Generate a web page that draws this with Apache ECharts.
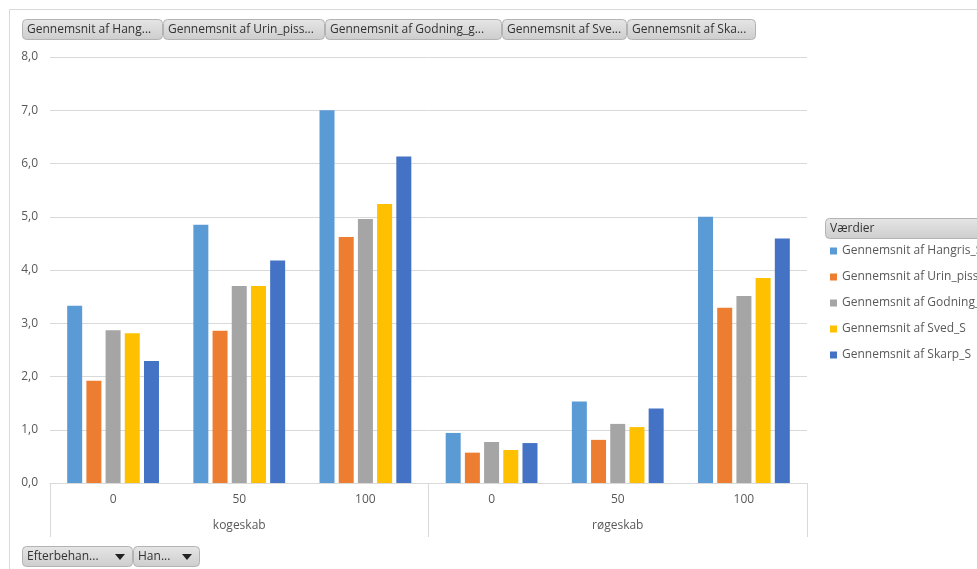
<!DOCTYPE html>
<html>
<head>
<meta charset="utf-8">
<script src="https://cdn.jsdelivr.net/npm/echarts@6/dist/echarts.min.js"></script>
<style>
  html, body { margin: 0; padding: 0; background: #ffffff; }
  #chart { width: 977px; height: 569px; }
</style>
</head>
<body>
<div id="chart"></div>
<script>
// Inner category level (Hangris level) and outer level (Efterbehandling)
const levels = ['0', '50', '100', '0', '50', '100'];
const groups = ['kogeskab', 'røgeskab'];

// Average scores per combination
const seriesNames = [
  'Gennemsnit af Hangris_S',
  'Gennemsnit af Urin_pisse_S',
  'Gennemsnit af Godning_galt_S',
  'Gennemsnit af Sved_S',
  'Gennemsnit af Skarp_S'
];
const hangris = [3.33, 4.85, 7.00, 0.94, 1.53, 5.00];
const urin    = [1.92, 2.86, 4.62, 0.57, 0.81, 3.29];
const godning = [2.87, 3.70, 4.96, 0.77, 1.11, 3.51];
const sved    = [2.81, 3.70, 5.24, 0.62, 1.05, 3.85];
const skarp   = [2.29, 4.18, 6.13, 0.75, 1.40, 4.59];

// Y axis range
const yMin = 0;
const yMax = 8;
const yStep = 1;

// Pivot field buttons
const valueFields = [
  'Gennemsnit af Hang...',
  'Gennemsnit af Urin_piss...',
  'Gennemsnit af Godning_g...',
  'Gennemsnit af Sve...',
  'Gennemsnit af Ska...'
];
const rowFields = ['Efterbehan...', 'Han...'];
const legendTitle = 'Værdier';

const colors = ['#5B9BD5', '#ED7D31', '#A5A5A5', '#FFC000', '#4472C4'];
const FONT = '"Open Sans", "Noto Sans", sans-serif';
const values = [hangris, urin, godning, sved, skarp];

// ---- pivot button chrome ----
const btnFill = new echarts.graphic.LinearGradient(0, 0, 0, 1, [
  { offset: 0, color: '#e6e6e6' },
  { offset: 1, color: '#cdcdcd' }
]);
function button(x, y, w, h, label, dropdown) {
  const children = [
    {
      type: 'rect',
      shape: { x: x + 0.5, y: y + 0.5, width: w, height: h, r: 4 },
      style: { fill: btnFill, stroke: '#b3b3b3', lineWidth: 1 }
    },
    {
      type: 'text',
      x: x + 5, y: y + h / 2 + 0.5,
      style: { text: label, fill: '#333333', font: '12px ' + FONT, textVerticalAlign: 'middle' }
    }
  ];
  if (dropdown) {
    const cx = x + w - 12, cy = y + h / 2 + 1;
    children.push({
      type: 'polygon',
      shape: { points: [[cx - 5, cy - 3], [cx + 5, cy - 3], [cx, cy + 3]] },
      style: { fill: '#222222' }
    });
  }
  return { type: 'group', children: children };
}

const headerX = [22, 163, 325, 502, 627];
const headerW = [140, 161, 176, 124, 128];
const rowX = [22, 133];
const rowW = [110, 66];

const graphics = [
  {
    type: 'rect',
    shape: { x: 9.5, y: 9.5, width: 1100, height: 700 },
    style: { fill: 'none', stroke: '#d9d9d9', lineWidth: 1 },
    silent: true, z: -1
  }
];
valueFields.forEach((t, i) => graphics.push(button(headerX[i], 19, headerW[i], 20, t, false)));
rowFields.forEach((t, i) => graphics.push(button(rowX[i], 546, rowW[i], 20, t, true)));
graphics.push(button(825, 218, 200, 20, legendTitle, false));

const chart = echarts.init(document.getElementById('chart'), null, { renderer: 'canvas' });
chart.setOption({
  animation: false,
  color: colors,
  textStyle: { fontFamily: FONT },
  grid: { left: 50, right: 170, top: 57, bottom: 86, containLabel: false },
  legend: {
    data: seriesNames,
    orient: 'vertical',
    left: 830,
    top: 244,
    padding: 0,
    icon: 'rect',
    itemWidth: 7,
    itemHeight: 7,
    itemGap: 12,
    selectedMode: false,
    textStyle: { color: '#595959', fontSize: 12, lineHeight: 14, fontFamily: FONT }
  },
  xAxis: [
    {
      type: 'category',
      data: levels,
      position: 'bottom',
      axisLine: { show: true, lineStyle: { color: '#d9d9d9', width: 1 } },
      axisTick: { show: false },
      axisLabel: { color: '#595959', fontSize: 12, margin: 11, fontFamily: FONT }
    },
    {
      type: 'category',
      data: groups,
      position: 'bottom',
      offset: 0,
      axisLine: { show: false },
      axisTick: { show: true, length: 54, lineStyle: { color: '#d9d9d9', width: 1 } },
      axisLabel: { color: '#595959', fontSize: 12, margin: 37, fontFamily: FONT },
      splitLine: { show: false }
    }
  ],
  yAxis: {
    type: 'value',
    min: yMin,
    max: yMax,
    interval: yStep,
    axisLine: { show: false },
    axisTick: { show: false },
    splitLine: { lineStyle: { color: '#d9d9d9', width: 1 } },
    axisLabel: {
      color: '#595959', fontSize: 12, margin: 12, fontFamily: FONT,
      formatter: v => v.toFixed(1).replace('.', ',')
    }
  },
  series: seriesNames.map((name, i) => ({
    name: name,
    type: 'bar',
    xAxisIndex: 0,
    data: values[i],
    barWidth: 15,
    barGap: '28%',
    itemStyle: { color: colors[i] }
  })),
  graphic: graphics
});
</script>
</body>
</html>
